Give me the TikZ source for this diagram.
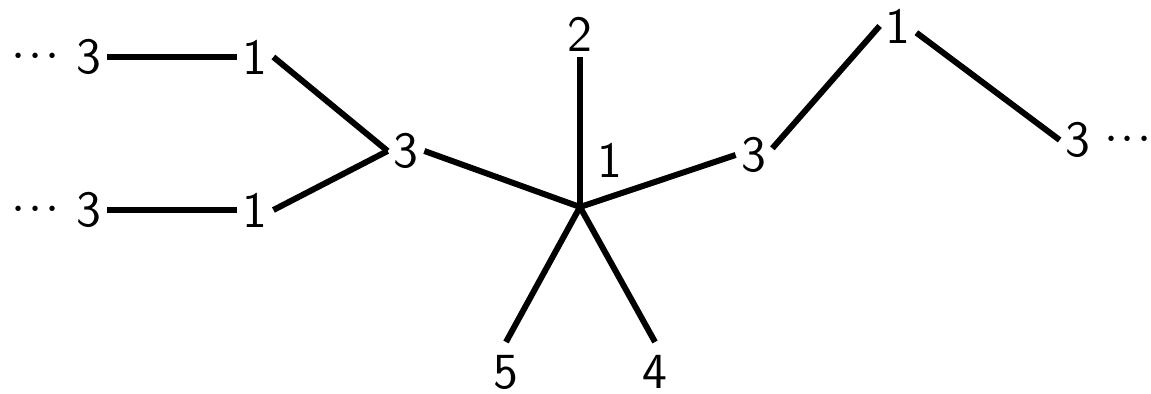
\documentclass[tikz,border=0pt]{standalone}
\usepackage{amsmath,amssymb}
\usepackage{tikz}

\newcommand{\trail}{$\cdot\mkern1mu{\cdot}\mkern1mu{\cdot}$}

\tikzset{
  lbl/.style={font=\sffamily\Large, inner sep=1.5pt},
  dots/.style={font=\Large, inner sep=0pt},
  bond/.style={line width=1.7pt},
}

\begin{document}
\begin{tikzpicture}[x=0.01cm, y=-0.01cm]
    \useasboundingbox (0,0) rectangle (1151,394);

    \node[lbl, label={[dots, label distance=3pt]left:{\trail}}] (la3) at (89,57) {3};
    \node[lbl] (la1) at (255,57) {1};
    \node[lbl, label={[dots, label distance=3pt]left:{\trail}}] (lb3) at (89,210) {3};
    \node[lbl] (lb1) at (255,210) {1};
    \node[lbl] (m3) at (406,151) {3};

    \coordinate (c) at (580,207);
    \node[lbl] (c1) at (610,160) {1};
    \node[lbl, anchor=south] (n2) at (580,57) {2};
    \node[lbl, anchor=north, inner ysep=3.5pt] (n5) at (506,342) {5};
    \node[lbl, anchor=north, inner ysep=3.5pt] (n4) at (655,342) {4};

    \node[lbl] (r3) at (754,155) {3};
    \node[lbl] (t1) at (898,26) {1};
    \node[lbl, label={[dots, label distance=2pt]right:{\trail}}] (f3) at (1078,140) {3};

    \draw[bond] (la3) -- (la1);
    \draw[bond] (lb3) -- (lb1);
    \draw[bond] (la1.east) -- (m3.west);
    \draw[bond] (lb1.east) -- (m3.west);
    \draw[bond] (m3.east) -- (c);

    \draw[bond] (c) -- (n2.south);
    \draw[bond] (c) -- (r3.west);
    \draw[bond] (c) -- (n5.north);
    \draw[bond] (c) -- (n4.north);

    \draw[bond] (r3.20) -- (t1.west);
    \draw[bond] (t1.-20) -- (f3.west);
\end{tikzpicture}
\end{document}
